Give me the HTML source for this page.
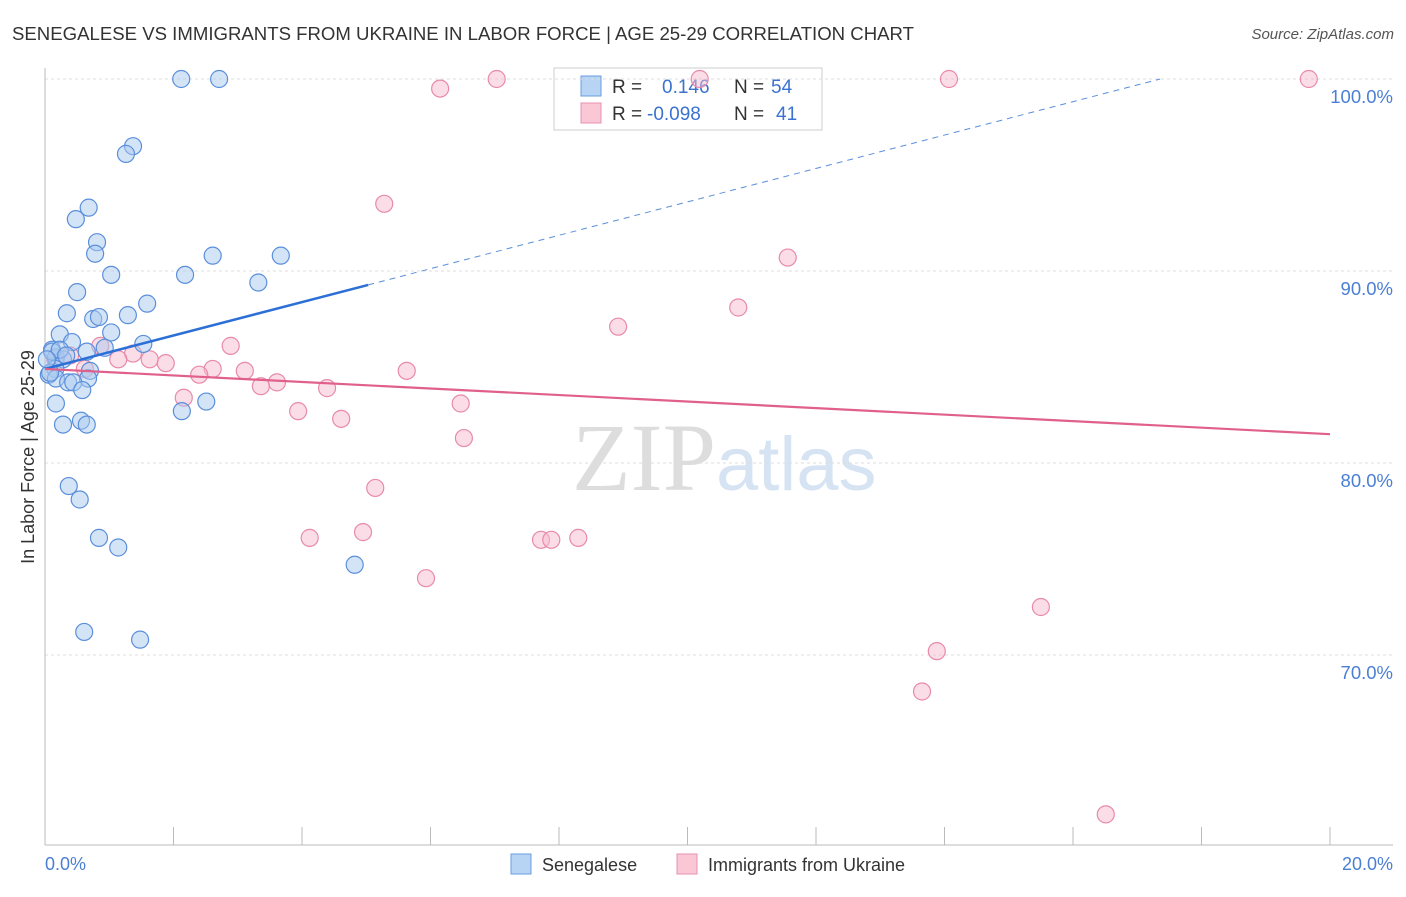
<!DOCTYPE html>
<html><head><meta charset="utf-8"><style>
body{margin:0;background:#fff;font-family:"Liberation Sans",sans-serif}
</style></head><body>
<svg id="c" width="1406" height="892" xmlns="http://www.w3.org/2000/svg">
<text x="12" y="40" font-size="18.6" fill="#333">SENEGALESE VS IMMIGRANTS FROM UKRAINE IN LABOR FORCE | AGE 25-29 CORRELATION CHART</text>
<text x="1394" y="39" font-size="15" fill="#555" font-style="italic" text-anchor="end">Source: ZipAtlas.com</text>
<text x="716" y="490" font-size="96" fill="#ddd" text-anchor="end" font-family="Liberation Serif,serif">ZIP</text>
<text x="716" y="490" font-size="76" fill="#d6e3f3">atlas</text>
<g>
<rect x="554" y="68" width="268" height="62" fill="#fff" stroke="#ccc"/>
<rect x="581" y="76" width="20" height="20" fill="#b8d4f5" stroke="#6a9de0"/>
<rect x="581" y="103" width="20" height="20" fill="#f9c7d6" stroke="#e892ae"/>
<text x="612" y="93" font-size="19" fill="#333">R = <tspan x="662" fill="#3a72d0">0.146</tspan><tspan x="734" fill="#333">N = </tspan><tspan x="771" fill="#3a72d0">54</tspan></text>
<text x="612" y="120" font-size="19" fill="#333">R = <tspan x="647" fill="#3a72d0">-0.098</tspan><tspan x="734" fill="#333">N = </tspan><tspan x="776" fill="#3a72d0">41</tspan></text>
</g>
<g id="grid"></g><g id="pts"></g><g id="lines"></g>
<text transform="translate(34,457) rotate(-90)" font-size="18" fill="#333" text-anchor="middle">In Labor Force | Age 25-29</text>
<text x="45" y="870" font-size="18" fill="#4a7fd4">0.0%</text>
<text x="1393" y="870" font-size="18" fill="#4a7fd4" text-anchor="end">20.0%</text>
<g>
<rect x="511" y="854" width="20" height="20" fill="#b8d4f5" stroke="#6a9de0"/>
<text x="542" y="871" font-size="18" fill="#333">Senegalese</text>
<rect x="677" y="854" width="20" height="20" fill="#f9c7d6" stroke="#e892ae"/>
<text x="708" y="871" font-size="18" fill="#333">Immigrants from Ukraine</text>
</g>
</svg>
<script>
const yTicks=[100,90,80,70];
const yTickLabels=["100.0%","90.0%","80.0%","70.0%"];
const blueX=[2.12,2.71,1.37,1.26,0.68,0.48,0.81,0.78,1.03,2.18,2.61,3.67,3.32,0.50,1.59,0.34,0.75,0.84,1.29,1.03,0.23,0.42,1.53,0.93,0.65,0.11,0.17,0.28,0.16,0.70,0.06,0.17,0.67,0.36,0.44,0.58,0.17,2.13,2.51,0.56,0.65,0.28,0.37,0.54,0.84,1.14,4.82,0.61,1.48,0.11,0.23,0.08,0.03,0.33];
const blueY=[100,100,96.5,96.1,93.3,92.7,91.5,90.9,89.8,89.8,90.8,90.8,89.4,88.9,88.3,87.8,87.5,87.6,87.7,86.8,86.7,86.3,86.2,86.0,85.8,85.9,85.5,85.4,84.9,84.8,84.6,84.4,84.4,84.2,84.2,83.8,83.1,82.7,83.2,82.2,82.0,82.0,78.8,78.1,76.1,75.6,74.7,71.2,70.8,85.8,85.9,84.7,85.4,85.6];
const pinkX=[7.03,10.19,14.07,19.67,6.15,5.28,11.56,10.79,8.92,2.89,0.86,1.37,1.63,1.88,1.14,2.61,3.11,2.40,5.63,3.61,3.36,4.39,2.16,6.47,3.94,4.61,6.52,5.14,4.12,4.95,7.72,7.88,8.30,5.93,15.50,13.88,13.65,16.51,0.39,0.62,0.16];
const pinkY=[100,100,100,100,99.5,93.5,90.7,88.1,87.1,86.1,86.1,85.7,85.4,85.2,85.4,84.9,84.8,84.6,84.8,84.2,84.0,83.9,83.4,83.1,82.7,82.3,81.3,78.7,76.1,76.4,76.0,76.0,76.1,74.0,72.5,70.2,68.1,61.7,85.6,84.9,85.4];
const blueTrend=[84.9,0.87]; // intercept, slope per %
const pinkTrend=[84.9,-0.17];
const NS="http://www.w3.org/2000/svg";
const xs=v=>45+v/20*1285, ys=v=>79+(100-v)*19.2;
function mk(t,a,p){const e=document.createElementNS(NS,t);for(const k in a)e.setAttribute(k,a[k]);p.appendChild(e);return e;}
const g=document.getElementById('grid');
yTicks.forEach((t,i)=>{
 const l=mk('line',{x1:45,x2:1393,y1:ys(t),y2:ys(t),stroke:'#ddd','stroke-dasharray':'3,3'},g);
 
 
 const tx=mk('text',{x:1393,y:ys(t)+24,'font-size':18.5,fill:'#4a7fd4','text-anchor':'end'},g);tx.textContent=yTickLabels[i];
 
 
});
mk('line',{x1:45,x2:45,y1:68,y2:845,stroke:'#bbb'},g);
mk('line',{x1:45,x2:1393,y1:845,y2:845,stroke:'#bbb'},g);
for(let i=0;i<=10;i++){const x=xs(i*2);const t=mk('line',{x1:x,x2:x,y1:827,y2:845,stroke:'#bbb'},g);
 
 }
const p=document.getElementById('pts');
function dots(X,Y,f,s,n){X.forEach((x,i)=>{const c=mk('circle',{cx:xs(x),cy:ys(Y[i]),r:8.5,fill:f,'fill-opacity':0.5,stroke:s,'stroke-width':1.2},p);
 
 });}
dots(pinkX,pinkY,'#f7bccf','#e88aaa','ukraine-point');
dots(blueX,blueY,'#aac9f0','#5b8fdb','senegalese-point');
const L=document.getElementById('lines');
const bx1=5.03,bxe=(100-blueTrend[0])/blueTrend[1];
let e=mk('line',{x1:xs(0),y1:ys(blueTrend[0]),x2:xs(bx1),y2:ys(blueTrend[0]+blueTrend[1]*bx1),stroke:'#2c6fd6','stroke-width':2.5},L);


e=mk('line',{x1:xs(bx1),y1:ys(blueTrend[0]+blueTrend[1]*bx1),x2:xs(bxe),y2:ys(100),stroke:'#5b8fdb','stroke-width':1,'stroke-dasharray':'6,5'},L);


e=mk('line',{x1:xs(0),y1:ys(pinkTrend[0]),x2:xs(20),y2:ys(pinkTrend[0]+pinkTrend[1]*20),stroke:'#e0608a','stroke-width':2.2},L);


</script>
</body></html>
